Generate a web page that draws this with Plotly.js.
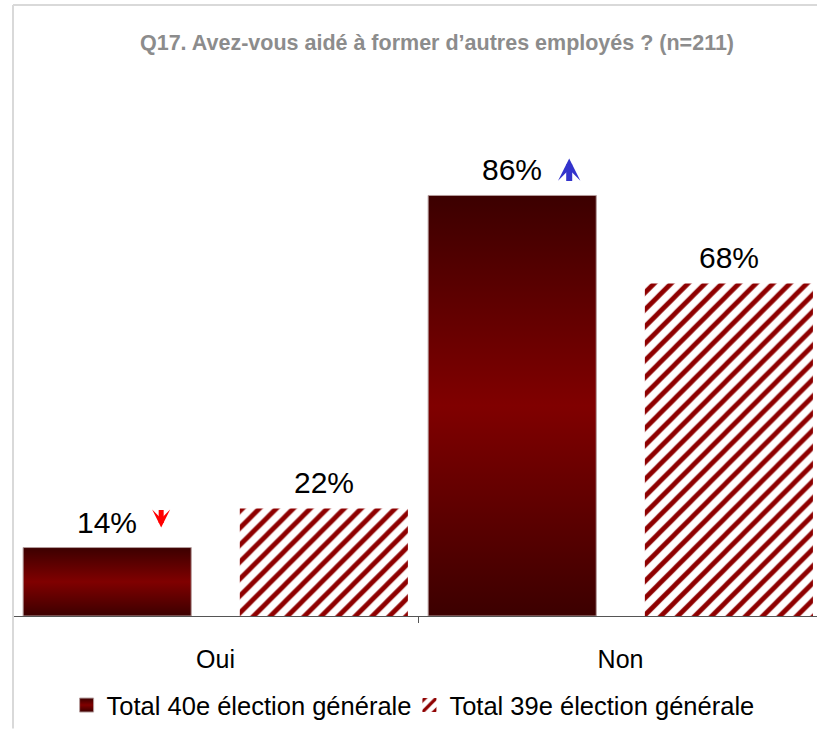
<!DOCTYPE html>
<html><head><meta charset="utf-8">
<script src="https://cdn.plot.ly/plotly-3.0.1.min.js"></script>
<style>html,body{margin:0;padding:0;background:#fff}</style>
</head><body>
<div id="chart" style="width:817px;height:729px"></div>
<script>
// ---- data ----
const categories = ["Oui", "Non"];
const total40 = [14, 86];
const total39 = [22, 68];
const seriesNames = ["Total 40e élection générale", "Total 39e élection générale"];
const trend40 = ["down", "up"];
const titleText = "Q17. Avez-vous aidé à former d’autres employés ? (n=211)";

// ---- styling ----
const FONT = "Tahoma, 'Liberation Sans', Arial, sans-serif";
const BAR_W = 0.415, OFF40 = -0.475, OFF39 = 0.06;
const idx = categories.map((c, i) => i);

const trace40 = {
  type: "bar", name: seriesNames[0], x: categories, y: total40,
  width: BAR_W, offset: OFF40,
  marker: { color: "#6a0000", line: { color: "#b49c9c", width: 1 } },
  hoverinfo: "skip"
};
const trace39 = {
  type: "bar", name: seriesNames[1], x: categories, y: total39,
  width: BAR_W, offset: OFF39,
  marker: {
    color: "#8e0000", line: { width: 0 },
    pattern: { shape: "/", fgcolor: "#8e0000", bgcolor: "#ffffff", size: 12, solidity: 0.4, fillmode: "replace" }
  },
  hoverinfo: "skip"
};

const annotations = [];
idx.forEach(i => {
  annotations.push({ x: i + OFF40 + BAR_W / 2, y: total40[i], xref: "x", yref: "y",
    text: total40[i] + "%", showarrow: false, yanchor: "bottom", yshift: 7,
    font: { family: FONT, size: 30, color: "#000" } });
  annotations.push({ x: i + OFF39 + BAR_W / 2, y: total39[i], xref: "x", yref: "y",
    text: total39[i] + "%", showarrow: false, yanchor: "bottom", yshift: 7,
    font: { family: FONT, size: 30, color: "#000" } });
  const up = trend40[i] === "up";
  annotations.push({ x: i + OFF40 + BAR_W / 2, y: total40[i], xref: "x", yref: "y",
    text: "", showarrow: true, arrowhead: 3, arrowsize: up ? 0.62 : 0.6, arrowwidth: up ? 6 : 5,
    arrowcolor: up ? "#3333cc" : "#ff0000",
    ax: 0, ay: up ? 24 : -19, standoff: 0,
    xshift: up ? 57 : 54, yshift: up ? 37 : 20 });
});

const layout = {
  width: 817, height: 729,
  margin: { l: 13, r: 0, t: 127, b: 109 },
  paper_bgcolor: "#fff", plot_bgcolor: "#fff",
  title: { text: "<b>" + titleText + "</b>", x: 437 / 817, xref: "container", xanchor: "center",
    y: 1 - 42 / 729, yref: "container", yanchor: "middle",
    font: { family: FONT, size: 21.5, color: "#8c8c8c" } },
  barmode: "group",
  xaxis: { type: "category", range: [-0.5, 1.485], showgrid: false, zeroline: false,
    showline: true, linecolor: "#555", linewidth: 1,
    ticks: "outside", tickson: "boundaries", ticklen: 6, tickcolor: "#555",
    ticklabelstandoff: 21,
    tickfont: { family: FONT, size: 25, color: "#000" } },
  yaxis: { range: [0, 100], visible: false, showgrid: false, zeroline: false },
  showlegend: true,
  legend: { orientation: "h", x: 0.502, xanchor: "center", y: -0.183, yanchor: "middle",
    font: { family: FONT, size: 25.5, color: "#000" }, itemclick: false, bgcolor: "rgba(0,0,0,0)",
    itemwidth: 30 },
  annotations: annotations,
  shapes: [
    { type: "line", xref: "paper", yref: "paper", x0: 0, x1: 0, y0: -0.23, y1: 1.2495,
      line: { color: "#d9d9d9", width: 2 } },
    { type: "line", xref: "paper", yref: "paper", x0: 0, x1: 1, y0: 1.2495, y1: 1.2495,
      line: { color: "#d9d9d9", width: 2 } }
  ]
};

Plotly.newPlot("chart", [trace40, trace39], layout, { displayModeBar: false, staticPlot: true }).then(gd => {
  const ns = "http://www.w3.org/2000/svg";
  const svg = gd.querySelector(".main-svg");
  let defs = svg.querySelector("defs");
  if (!defs) { defs = document.createElementNS(ns, "defs"); svg.insertBefore(defs, svg.firstChild); }
  const lg = document.createElementNS(ns, "linearGradient");
  lg.setAttribute("id", "grad40");
  lg.setAttribute("x1", "0"); lg.setAttribute("y1", "0");
  lg.setAttribute("x2", "0"); lg.setAttribute("y2", "1");
  [["0", "#3c0000"], ["0.5", "#800000"], ["1", "#3c0000"]].forEach(([o, c]) => {
    const s = document.createElementNS(ns, "stop");
    s.setAttribute("offset", o); s.setAttribute("stop-color", c);
    lg.appendChild(s);
  });
  defs.appendChild(lg);
  const traces = gd.querySelectorAll(".barlayer .trace");
  if (traces[0]) traces[0].querySelectorAll("path").forEach(p => { p.style.fill = "url(#grad40)"; });
  const leg = gd.querySelectorAll(".legend .traces");
  leg.forEach((t, k) => {
    t.querySelectorAll(".legendpoints path").forEach(p => {
      p.setAttribute("d", "M7,7H-7V-7H7Z");
      if (k === 0) p.style.fill = "url(#grad40)";
    });
    if (k === 1) {
      const tr = t.getAttribute("transform") || "";
      const m = tr.match(/translate\(\s*([-\d.]+)[ ,]+([-\d.]+)\s*\)/);
      if (m) t.setAttribute("transform", "translate(" + (parseFloat(m[1]) - 7) + "," + m[2] + ")");
    }
  });
});
</script>
</body></html>
